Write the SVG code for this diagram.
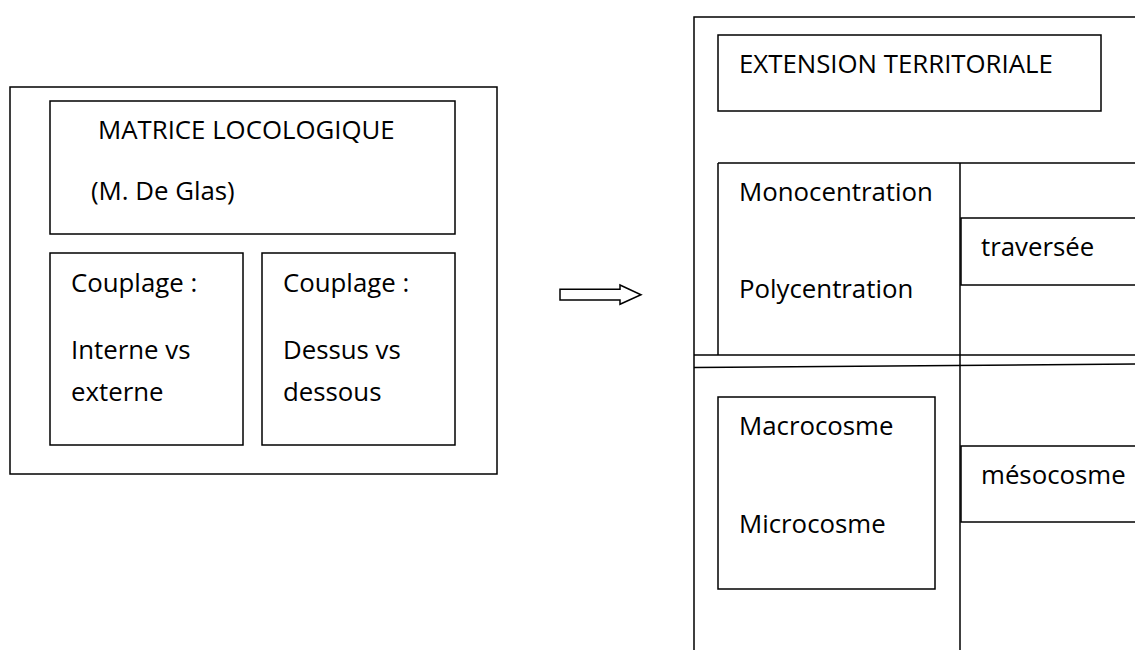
<svg xmlns="http://www.w3.org/2000/svg" width="1135" height="650" viewBox="0 0 1135 650">
<style>
.b{fill:none;stroke:#000;stroke-width:1.5}
.l{stroke:#000;stroke-width:1.5;fill:none}
.t{font-family:"Open Sans","Liberation Sans",sans-serif;font-size:25.8px;fill:#000}
</style>
<rect width="1135" height="650" fill="#fff"/>
<g id="matrice-outer">
<rect class="b" x="10" y="87" width="487" height="387"/>
</g>
<g id="matrice">
<rect class="b" x="50" y="101" width="405" height="133"/>
<text class="t" x="98" y="139">MATRICE LOCOLOGIQUE</text>
<text class="t" x="91" y="200">(M. De Glas)</text>
</g>
<g id="couplage-interne">
<rect class="b" x="50" y="253" width="193" height="192"/>
<text class="t" x="71" y="292">Couplage :</text>
<text class="t" x="71" y="359">Interne vs</text>
<text class="t" x="71" y="401">externe</text>
</g>
<g id="couplage-dessus">
<rect class="b" x="262" y="253" width="193" height="192"/>
<text class="t" x="283" y="292">Couplage :</text>
<text class="t" x="283" y="359">Dessus vs</text>
<text class="t" x="283" y="401">dessous</text>
</g>
<g id="connectors">
<path class="l" d="M560 289.3 H620 V285 L641 294.7 L620 304.3 V300 H560 Z" fill="#fff"/>
</g>
<g id="extension-frame">
<path class="l" d="M694 650 V17 H1140"/>
<path class="l" d="M718 163 H1140"/>
<path class="l" d="M718 163 V355"/>
<path class="l" d="M694 355 H1140"/>
<path class="l" d="M694 367.5 L1140 364"/>
<path class="l" d="M960 163 V650"/>
</g>
<g id="extension-territoriale">
<rect class="b" x="718" y="35" width="383" height="76"/>
<text class="t" x="739" y="73">EXTENSION TERRITORIALE</text>
</g>
<g id="centration">
<text class="t" x="739" y="201">Monocentration</text>
<text class="t" x="739" y="298">Polycentration</text>
</g>
<g id="traversee">
<rect class="b" x="961" y="218" width="200" height="67"/>
<text class="t" x="981" y="256">traversée</text>
</g>
<g id="cosme">
<rect class="b" x="718" y="397" width="217" height="192"/>
<text class="t" x="739" y="435">Macrocosme</text>
<text class="t" x="739" y="533">Microcosme</text>
</g>
<g id="mesocosme">
<rect class="b" x="961" y="446" width="200" height="76"/>
<text class="t" x="981" y="484">mésocosme</text>
</g>
</svg>
